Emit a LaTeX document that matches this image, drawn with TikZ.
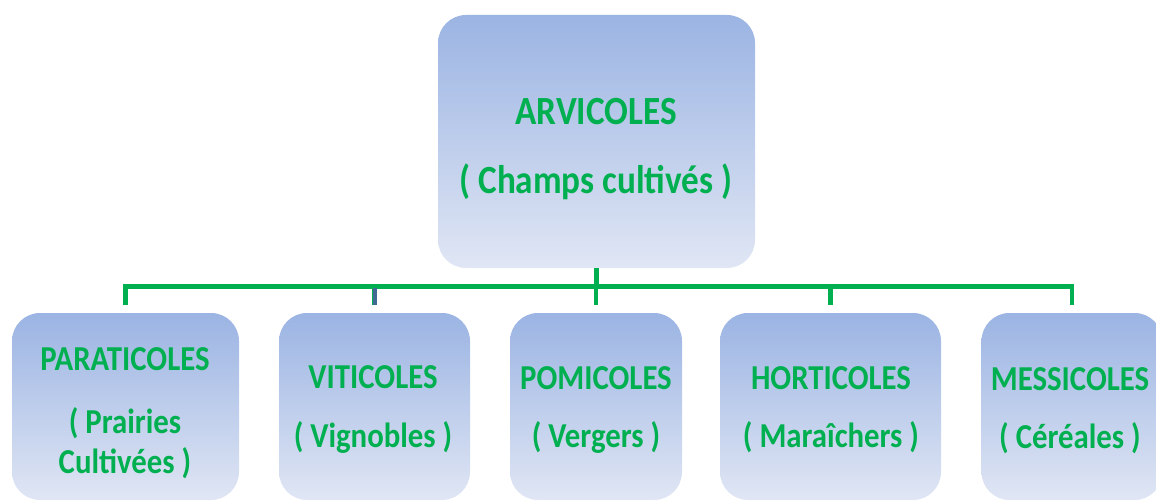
\documentclass[tikz,border=0pt]{standalone}
\usepackage{fontspec}
\newfontfamily\calfont[FakeStretch=0.88]{Carlito}
\definecolor{txtgreen}{RGB}{0,176,80}
\definecolor{linegreen}{RGB}{0,176,80}
\definecolor{boxtop}{RGB}{155,180,227}
\definecolor{boxbot}{RGB}{224,230,244}
\definecolor{tickblue}{RGB}{65,105,150}
\tikzset{
  box/.style={rectangle, rounded corners=28pt, top color=boxtop, bottom color=boxbot, draw=none, inner sep=0pt},
  bigtxt/.style={anchor=base, inner sep=0pt, text=txtgreen, font=\calfont\bfseries\fontsize{40}{48}\selectfont},
  smalltxt/.style={anchor=base, inner sep=0pt, text=txtgreen, font=\calfont\bfseries\fontsize{35}{42}\selectfont},
  conn/.style={draw=linegreen, line width=4.5pt},
  bluetick/.style={draw=tickblue, line width=4pt}
}
\begin{document}
\begin{tikzpicture}[x=1pt,y=-1pt]
\useasboundingbox (0,0) rectangle (1156,503);
% boxes
\node[box, minimum width=317pt, minimum height=253pt] (top) at (596.5,141.5) {};
\node[box, minimum width=227pt, minimum height=187pt] (b1) at (125.5,406.5) {};
\node[box, minimum width=191pt, minimum height=187pt] (b2) at (374.5,406.5) {};
\node[box, minimum width=172pt, minimum height=187pt] (b3) at (596,406.5) {};
\node[box, minimum width=221pt, minimum height=187pt] (b4) at (830.5,406.5) {};
\node[box, minimum width=181pt, minimum height=187pt] (b5) at (1072,406.5) {};
% connectors
\foreach \b in {b1,b2,b3,b4,b5}
  \draw[conn, shorten >=8pt] (top.south) -- ++(0,18.5) -| (\b.north);
\draw[bluetick, shorten <=8pt] (b2.north) -- ++(0,-25);
% texts
\node[bigtxt] (t0a) at (596,124) {ARVICOLES};
\node[bigtxt] (t0b) at (596,193) {( Champs cultivés )};
\node[smalltxt] (t1a) at (125,370) {PARATICOLES};
\node[smalltxt] (t1b) at (125,433) {( Prairies};
\node[smalltxt] (t1c) at (125,473) {Cultivées )};
\node[smalltxt] (t2a) at (373,388) {VITICOLES};
\node[smalltxt] (t2b) at (373,447) {( Vignobles )};
\node[smalltxt] (t3a) at (596,389) {POMICOLES};
\node[smalltxt] (t3b) at (596,447) {( Vergers )};
\node[smalltxt] (t4a) at (831,389) {HORTICOLES};
\node[smalltxt] (t4b) at (831,447) {( Maraîchers )};
\node[smalltxt] (t5a) at (1070,390) {MESSICOLES};
\node[smalltxt] (t5b) at (1070,448) {( Céréales )};
\end{tikzpicture}
\end{document}
